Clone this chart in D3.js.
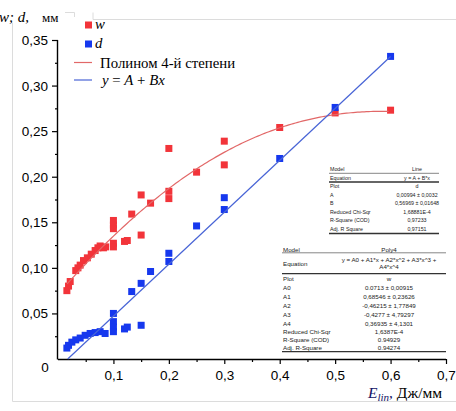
<!DOCTYPE html>
<html><head><meta charset="utf-8">
<script src="https://cdn.jsdelivr.net/npm/d3@7"></script>
<style>html,body{margin:0;padding:0;background:#fff;}svg{display:block;}</style>
</head><body>
<script>
// ---- data ----
const wX = [0.016,0.019,0.022,0.032,0.036,0.040,0.046,0.053,0.060,0.067,0.072,0.076,0.082,0.086,
            0.1,0.1,0.1,0.1,0.1,0.12,0.125,0.133,0.15,0.15,0.167,0.2,0.2,0.2,0.25,0.3,0.3,0.4,0.5,0.6];
const wY = [0.075,0.080,0.085,0.097,0.100,0.103,0.108,0.111,0.115,0.119,0.122,0.124,0.122,0.123,
            0.152,0.147,0.143,0.127,0.123,0.129,0.130,0.159,0.180,0.136,0.171,0.231,0.184,0.176,0.205,0.239,0.213,0.254,0.270,0.273];
const dX = [0.016,0.019,0.025,0.032,0.040,0.049,0.058,0.067,0.076,0.085,
            0.1,0.1,0.1,0.1,0.12,0.125,0.133,0.15,0.15,0.167,0.2,0.2,0.25,0.3,0.3,0.4,0.5,0.6];
const dY = [0.012,0.015,0.0185,0.021,0.023,0.026,0.028,0.029,0.030,0.028,
            0.050,0.041,0.035,0.030,0.033,0.035,0.074,0.083,0.037,0.096,0.116,0.107,0.146,0.177,0.164,0.220,0.276,0.332];
const linParams = [-0.00994, 0.56969];              // A, B
const polyParams = [0.0713, 0.68546, -0.46215, -0.4277, 0.36935]; // A0..A4
const xMajorTicks = [0.1,0.2,0.3,0.4,0.5,0.6,0.7];
const xMinorTicks = [0.05,0.15,0.25,0.35,0.45,0.55,0.65];
const yMajorTicks = [0.05,0.10,0.15,0.20,0.25,0.30,0.35];
const yMinorTicks = [0.025,0.075,0.125,0.175,0.225,0.275,0.325];
const table1Rows = [["Model","Line"],["Equation","y = A + B*x"],["Plot","d"],["A","0,00994 ± 0,0032"],["B","0,56969 ± 0,01648"],["Reduced Chi-Sqr","1,68881E-4"],["R-Square (COD)","0,97233"],["Adj. R Square","0,97151"]];
const table2Rows = [["Model","Poly4"],["Equation",""],["Plot","w"],["A0","0.0713 ± 0,00915"],["A1","0,68546 ± 0,23626"],["A2","-0,46215 ± 1,77849"],["A3","-0,4277 ± 4,79297"],["A4","0,36935 ± 4,1301"],["Reduced Chi-Sqr","1,6387E-4"],["R-Square (COD)","0.94929"],["Adj. R-Square","0.94274"]];
const table2Eq = ["y = A0 + A1*x + A2*x^2 + A3*x^3 +","A4*x^4"];

const W = 456, H = 411;
const svg = d3.select("body").append("svg").attr("width", W).attr("height", H);

// frame
const frame = svg.append("g").attr("fill","none").attr("stroke","#dcdcdc").attr("stroke-width",1);
frame.append("path").attr("d","M12.5,23 V401.5 H456");
frame.append("path").attr("d","M65,12.5 H74.5 V17 M93,12.5 V19.5 H456");

const x = d3.scaleLinear().domain([0,0.7]).range([58,446]);
const y = d3.scaleLinear().domain([0,0.35]).range([359,40]);
const comma = v => d3.format(".2f")(v).replace(".",",");
const comma1 = v => d3.format(".1f")(v).replace(".",",");

// axes
const gx = svg.append("g").attr("transform","translate(0,359)");
gx.call(d3.axisBottom(x).tickValues(xMajorTicks).tickSize(5).tickSizeOuter(0).tickFormat(comma1));
gx.select(".domain").attr("d","M58,0.5H446").attr("stroke","#000").attr("stroke-width",1.4);
gx.selectAll(".tick line").attr("stroke","#000").attr("stroke-width",1.2);
gx.selectAll(".tick text").attr("y",16.5).attr("dy",0).attr("dominant-baseline","central")
  .style("font-family","'Liberation Sans',Arial,sans-serif").style("font-size","13.5px").attr("fill","#000");
const gxm = svg.append("g").attr("transform","translate(0,359)");
gxm.call(d3.axisBottom(x).tickValues(xMinorTicks).tickSize(3).tickFormat(""));
gxm.select(".domain").remove();
gxm.selectAll(".tick line").attr("stroke","#000").attr("stroke-width",1.2);

const gy = svg.append("g").attr("transform","translate(58,0)");
gy.call(d3.axisLeft(y).tickValues(yMajorTicks).tickSize(6).tickSizeOuter(0).tickFormat(comma));
gy.select(".domain").attr("d","M-0.5,40V359.5").attr("stroke","#000").attr("stroke-width",1.4);
gy.selectAll(".tick line").attr("stroke","#000").attr("stroke-width",1.2);
gy.selectAll(".tick text").attr("x",-10).attr("dy",0).attr("dominant-baseline","central")
  .style("font-family","'Liberation Sans',Arial,sans-serif").style("font-size","13.5px").attr("fill","#000");
const gym = svg.append("g").attr("transform","translate(58,0)");
gym.call(d3.axisLeft(y).tickValues(yMinorTicks).tickSize(3).tickFormat(""));
gym.select(".domain").remove();
gym.selectAll(".tick line").attr("stroke","#000").attr("stroke-width",1.2);
svg.append("text").attr("x",45).attr("y",367).attr("text-anchor","middle").attr("dominant-baseline","central")
  .style("font-family","'Liberation Sans',Arial,sans-serif").style("font-size","13.5px").text("0");

// axis titles
const yt = svg.append("text").attr("x",-1).attr("y",21.5)
  .style("font-family","'Liberation Serif','Times New Roman',serif").style("font-size","15px").attr("fill","#000");
yt.append("tspan").style("font-style","italic").text("w; d,");
yt.append("tspan").attr("x",42).style("font-size","13px").text("мм");

const xt = svg.append("text").attr("x",368).attr("y",397.5)
  .style("font-family","'Liberation Serif','Times New Roman',serif").style("font-size","15.5px");
xt.append("tspan").style("font-style","italic").attr("fill","#141466").text("E");
xt.append("tspan").style("font-style","italic").attr("fill","#141466").style("font-size","11px").attr("dy",3).text("lin");
xt.append("tspan").attr("dy",-3).attr("fill","#141466").text(", ");
xt.append("tspan").attr("fill","#000").text("Дж/мм");

// fit curves
const red = "rgb(242,52,58)", blue = "rgb(22,56,238)";
const redLine = "rgb(226,104,104)", blueLine = "rgb(72,100,214)";
const poly = v => polyParams.reduce((s,c,i)=> s + c*Math.pow(v,i), 0);
const lin = v => linParams[0] + linParams[1]*v;
const xs = d3.range(0.0165, 0.6001, 0.004);
const line = d3.line().x(d=>x(d[0])).y(d=>y(d[1]));

// markers
const ms = 7;
svg.append("g").selectAll("rect").data(wX.map((v,i)=>[v,wY[i]])).join("rect")
  .attr("x",d=>x(d[0])-ms/2).attr("y",d=>y(d[1])-ms/2).attr("width",ms).attr("height",ms).attr("fill",red);
svg.append("g").selectAll("rect").data(dX.map((v,i)=>[v,dY[i]])).join("rect")
  .attr("x",d=>x(d[0])-ms/2).attr("y",d=>y(d[1])-ms/2).attr("width",ms).attr("height",ms).attr("fill",blue);

svg.append("path").datum(xs.map(v=>[v,poly(v)])).attr("d",line).attr("fill","none").attr("stroke",redLine).attr("stroke-width",1.2);
svg.append("path").datum([[0.0175,lin(0.0175)],[0.6,lin(0.6)]]).attr("d",line).attr("fill","none").attr("stroke",blueLine).attr("stroke-width",1.2);

// legend
const lg = svg.append("g").style("font-family","'Liberation Serif','Times New Roman',serif").style("font-size","14.8px");
lg.append("rect").attr("x",85).attr("y",21.5).attr("width",7).attr("height",7).attr("fill",red);
lg.append("rect").attr("x",85).attr("y",40.5).attr("width",7).attr("height",7).attr("fill",blue);
lg.append("text").attr("x",95).attr("y",28.5).style("font-style","italic").text("w");
lg.append("text").attr("x",95).attr("y",47.5).style("font-style","italic").text("d");
lg.append("line").attr("x1",74).attr("x2",92).attr("y1",62.5).attr("y2",62.5).attr("stroke",redLine).attr("stroke-width",1.2);
lg.append("line").attr("x1",74).attr("x2",92).attr("y1",80).attr("y2",80).attr("stroke",blueLine).attr("stroke-width",1.2);
lg.append("text").attr("x",100).attr("y",67.5).text("Полином 4-й степени");
const le = lg.append("text").attr("x",102).attr("y",85);
le.append("tspan").style("font-style","italic").text("y");
le.append("tspan").text(" = ");
le.append("tspan").style("font-style","italic").text("A");
le.append("tspan").text(" + ");
le.append("tspan").style("font-style","italic").text("Bx");

// tables
function drawTable(rows, opt) {
  const g = svg.append("g").style("font-family","'Liberation Sans',Arial,sans-serif").style("font-size",opt.fs+"px").attr("fill","#222");
  rows.forEach((r,i)=>{
    const yy = opt.rowY[i];
    g.append("text").attr("x",opt.left+1).attr("y",yy).attr("dominant-baseline","central").text(r[0]);
    if (r[1]) g.append("text").attr("x",opt.mid).attr("y",yy).attr("text-anchor","middle").attr("dominant-baseline","central").text(r[1]);
  });
  opt.lines.forEach(l=>{
    g.append("line").attr("x1",opt.left).attr("x2",opt.right).attr("y1",l[0]).attr("y2",l[0]).attr("stroke","#333").attr("stroke-width",l[1]);
  });
  return g;
}
drawTable(table1Rows, {fs:5.3, left:329, right:439, mid:417,
  rowY:[169,177.6,186.1,194.7,203.3,211.9,220.4,229],
  lines:[[173.3,0.6],[182,1.3],[233.5,1.4]]});
const t2 = drawTable(table2Rows, {fs:6.2, left:282, right:446, mid:389,
  rowY:[249,263,278.6,287.3,296.2,305,314,323,331.5,339.5,347.3],
  lines:[[252.8,0.6],[273.6,1.3],[351.6,1.4]]});
table2Eq.forEach((s,i)=>{
  t2.append("text").attr("x",389).attr("y",[259.3,266.5][i]).attr("text-anchor","middle").attr("dominant-baseline","central").text(s);
});
</script>
</body></html>
